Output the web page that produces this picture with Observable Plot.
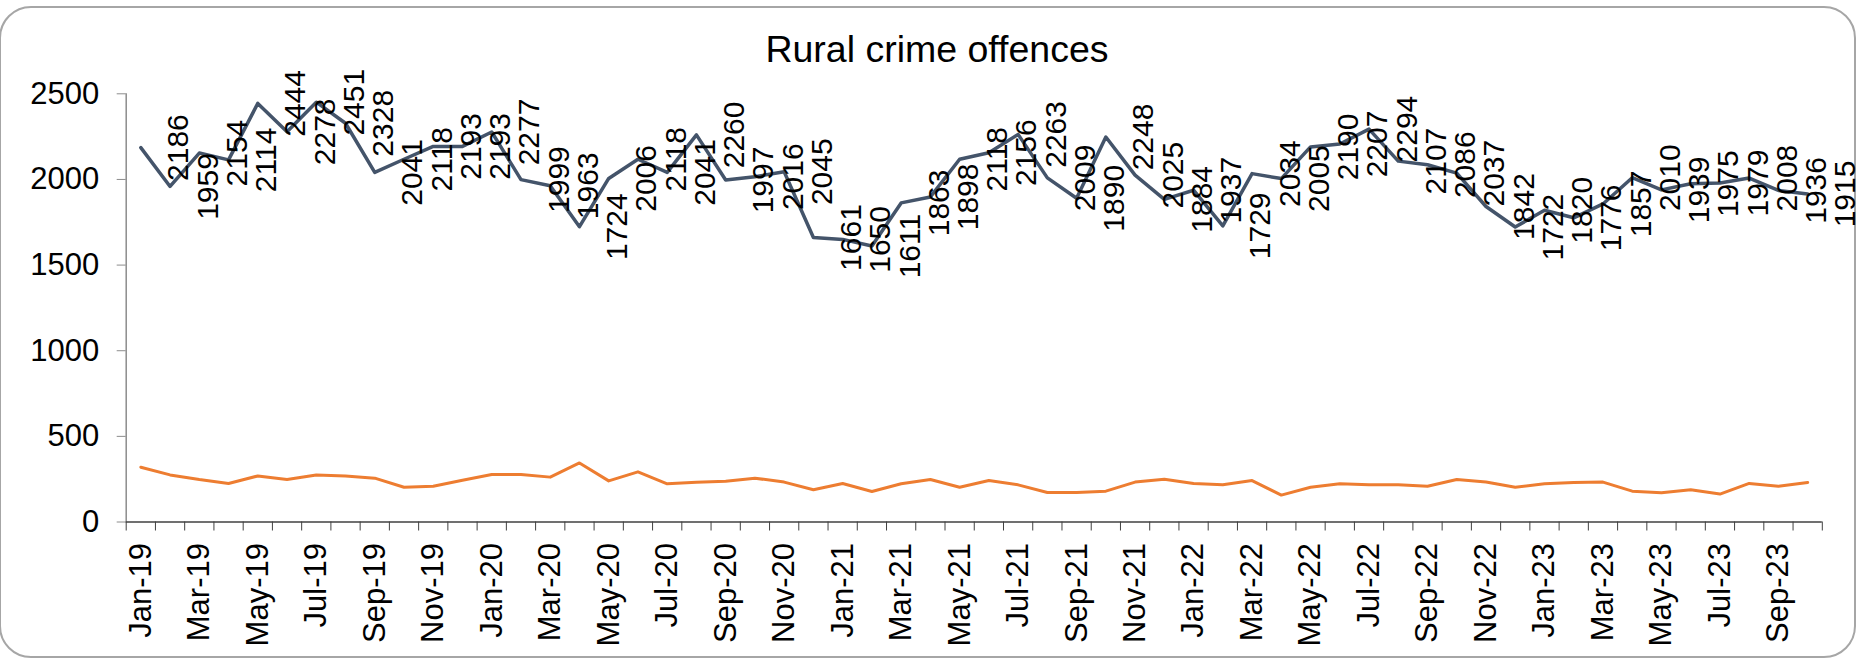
<!DOCTYPE html>
<html>
<head>
<meta charset="utf-8">
<script src="https://cdn.jsdelivr.net/npm/d3@7"></script>
<script src="https://cdn.jsdelivr.net/npm/@observablehq/plot@0.6"></script>
<style>
  html, body { margin: 0; padding: 0; background: #fff; width: 1864px; height: 659px; overflow: hidden; font-family: "Liberation Sans", Arial, sans-serif; }
  #frame { position: absolute; left: -1px; top: 6px; width: 1857px; height: 652px; border: 2px solid #a6a6a6; border-radius: 32px; box-sizing: border-box; }
  #title { position: absolute; left: 737px; width: 400px; top: 31px; text-align: center; font-size: 37.5px; line-height: 37.5px; color: #000; white-space: nowrap; }
  #chart { position: absolute; left: 0; top: 75px; }
</style>
</head>
<body>
<div id="frame"></div>
<div id="title">Rural crime offences</div>
<div id="chart"></div>
<script>
const months = [
  "Jan-19","Feb-19","Mar-19","Apr-19","May-19","Jun-19","Jul-19","Aug-19","Sep-19","Oct-19","Nov-19","Dec-19",
  "Jan-20","Feb-20","Mar-20","Apr-20","May-20","Jun-20","Jul-20","Aug-20","Sep-20","Oct-20","Nov-20","Dec-20",
  "Jan-21","Feb-21","Mar-21","Apr-21","May-21","Jun-21","Jul-21","Aug-21","Sep-21","Oct-21","Nov-21","Dec-21",
  "Jan-22","Feb-22","Mar-22","Apr-22","May-22","Jun-22","Jul-22","Aug-22","Sep-22","Oct-22","Nov-22","Dec-22",
  "Jan-23","Feb-23","Mar-23","Apr-23","May-23","Jun-23","Jul-23","Aug-23","Sep-23","Oct-23"
];
const ruralOffences = [
  2186,1959,2154,2114,2444,2278,2451,2328,2041,2118,2193,2193,
  2277,1999,1963,1724,2006,2118,2041,2260,1997,2016,2045,1661,
  1650,1611,1863,1898,2118,2156,2263,2009,1890,2248,2025,1884,
  1937,1729,2034,2005,2190,2207,2294,2107,2086,2037,1842,1722,
  1820,1776,1857,2010,1939,1975,1979,2008,1936,1915
];
const otherOffences = [
  320,275,248,225,269,248,275,269,256,203,209,244,
  277,277,262,345,240,293,223,232,238,256,233,188,
  225,178,223,248,203,242,217,172,172,180,233,250,
  225,217,242,157,203,223,217,217,209,248,233,203,
  223,231,233,180,171,188,163,225,209,231
];
const yTicks = [0, 500, 1000, 1500, 2000, 2500];

const rows = months.map((m, i) => ({i, m, rural: ruralOffences[i], other: otherOffences[i]}));
const boundaries = d3.range(months.length + 1);
const labelPos = months.map((m, i) => i).filter(i => i % 2 === 0).map(i => i + 0.5);
const xc = d => d.i + 0.5;

const chart = Plot.plot({
  width: 1864,
  height: 584,
  marginLeft: 125.7,
  marginRight: 42.2,
  marginTop: 18.3,
  marginBottom: 137.5,
  style: {fontFamily: '"Liberation Sans", Arial, sans-serif', fontSize: "31px", color: "#000", background: "transparent", overflow: "visible"},
  x: {domain: [0, months.length], label: null},
  y: {domain: [0, 2500], label: null},
  marks: [
    Plot.ruleX([0], {y1: 0, y2: 2500, stroke: "#8c8c8c", strokeWidth: 1.5}),
    Plot.axisY({ticks: yTicks, tickSize: 9, tickPadding: 18, tickFormat: d => String(d), stroke: "#8c8c8c", fill: "#000", fontSize: 31, label: null}),
    Plot.axisX({ticks: boundaries, tickSize: 9, tickFormat: () => "", stroke: "#404040", label: null}),
    Plot.axisX({ticks: labelPos, tickSize: 0, tickPadding: 21, tickRotate: -90, tickFormat: d => months[Math.floor(d)], fontSize: 31, fill: "#000", label: null}),
    Plot.ruleY([0], {stroke: "#404040", strokeWidth: 1.5}),
    Plot.line(rows, {x: xc, y: "other", stroke: "#ED7D31", strokeWidth: 3}),
    Plot.line(rows, {x: xc, y: "rural", stroke: "#44546A", strokeWidth: 3.5}),
    Plot.text(rows, {x: xc, y: "rural", text: d => String(d.rural), rotate: -90, dx: 38, fontSize: 30, fill: "#000"})
  ]
});
document.getElementById("chart").appendChild(chart);
</script>
</body>
</html>
